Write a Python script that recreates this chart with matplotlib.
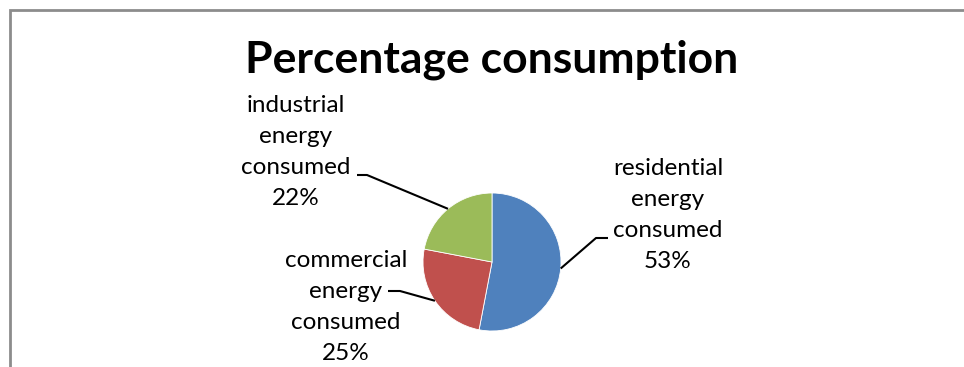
import numpy as np
import matplotlib
matplotlib.use('Agg')
import matplotlib.pyplot as plt
from matplotlib.patches import Rectangle

# data
categories = ['residential\nenergy\nconsumed', 'commercial\nenergy\nconsumed', 'industrial\nenergy\nconsumed']
shares = [53, 25, 22]
colors = ['#4F81BD', '#C0504D', '#9BBB59']
title = 'Percentage consumption'

W, H = 964, 367
fig = plt.figure(figsize=(W / 100, H / 100), dpi=100)
ax = fig.add_axes([0, 0, 1, 1])
ax.set_xlim(0, W)
ax.set_ylim(0, H)
ax.set_aspect('equal')
ax.axis('off')

# chart area border (cut off on right and bottom)
ax.add_patch(Rectangle((9.5, -50), 1100, H - 9.5 + 50, fill=False,
                       edgecolor='#8c8c8c', linewidth=2))

cx, cy, r = 492, H - 262, 69
wedges, _ = ax.pie(shares, colors=colors, startangle=90, counterclock=False,
                   center=(cx, cy), radius=r, frame=True,
                   wedgeprops=dict(edgecolor='white', linewidth=0.6))
ax.set_xlim(0, W)
ax.set_ylim(0, H)
ax.axis('off')

ax.text(cx, H - 60, title, ha='center', va='center', fontsize=32,
        fontweight='bold', family='Lato')

# label text centre, elbow, horizontal end (pixels, y down)
label_pos = [(668, 215), (346, 307), (296, 152)]
elbows = [(596, 238), (400, 291), (367, 175)]
ends = [(608, 238), (388, 291), (357, 175)]

for i, w in enumerate(wedges):
    mid = np.deg2rad((w.theta1 + w.theta2) / 2)
    ex, ey = cx + r * np.cos(mid), cy + r * np.sin(mid)
    bx, by = elbows[i]
    hx, hy = ends[i]
    ax.plot([ex, bx, hx], [ey, H - by, H - hy], color='black', lw=1.5,
            solid_capstyle='butt')
    lx, ly = label_pos[i]
    ax.text(lx, H - ly, f'{categories[i]}\n{shares[i]}%', ha='center',
            va='center', fontsize=17.5, family='Lato', linespacing=1.6,
            multialignment='center')

fig.savefig('out.png', dpi=100, facecolor='white')
